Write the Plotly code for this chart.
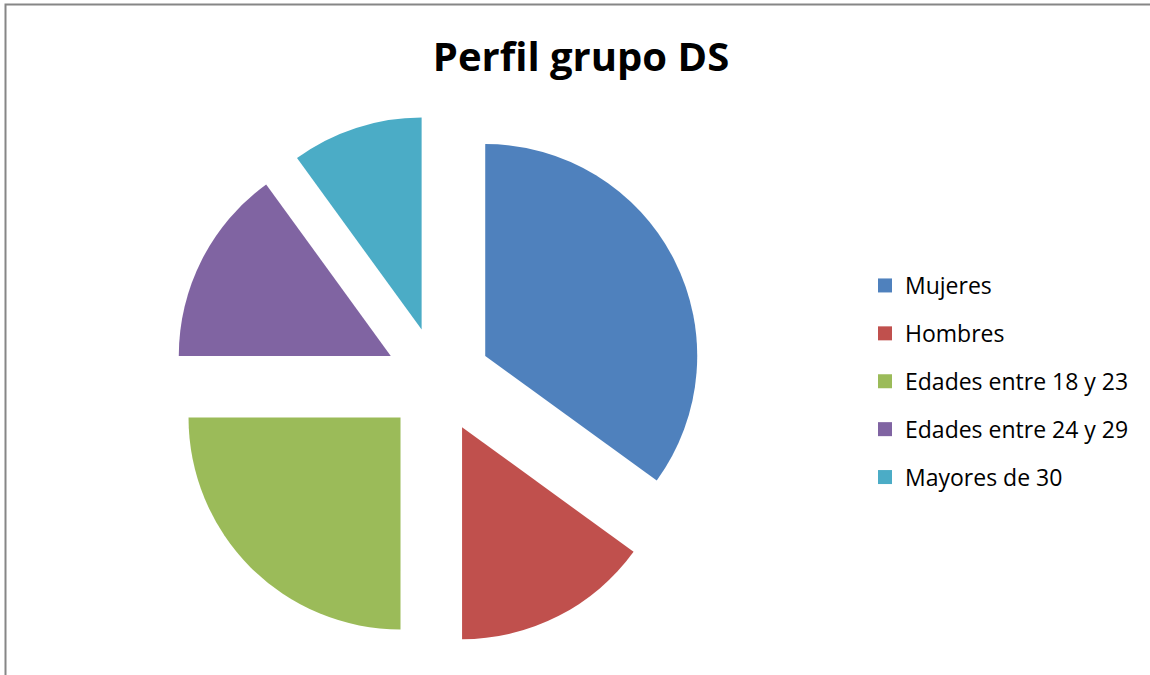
import plotly.graph_objects as go

categories = ["Mujeres", "Hombres", "Edades entre 18 y 23", "Edades entre 24 y 29", "Mayores de 30"]
values = [7, 3, 5, 3, 2]
colors = ["#4F81BD", "#C0504D", "#9BBB59", "#8064A2", "#4BACC6"]

W, H = 1150, 675

fig = go.Figure()
fig.add_trace(go.Pie(
    labels=categories,
    values=values,
    marker=dict(colors=colors, line=dict(width=0)),
    pull=[0.25] * len(values),
    sort=False,
    direction="clockwise",
    rotation=0,
    textinfo="none",
    showlegend=False,
    domain=dict(x=[173 / W, 703 / W], y=[1 - 645 / H, 1 - 115 / H]),
))

# legend entries (one group each for spacing)
for i, (c, col) in enumerate(zip(categories, colors)):
    fig.add_trace(go.Scatter(
        x=[None], y=[None], mode="markers", name=c,
        marker=dict(symbol="square", size=14, color=col),
        legendgroup=f"g{i}", showlegend=True,
    ))

fig.update_layout(
    width=W, height=H,
    margin=dict(l=0, r=0, t=0, b=0),
    paper_bgcolor="white", plot_bgcolor="white",
    title=dict(text="<b>Perfil grupo DS</b>", x=581 / W, xanchor="center",
               y=1 - 57 / H, yanchor="middle",
               font=dict(family="Open Sans", size=40, color="black")),
    xaxis=dict(visible=False), yaxis=dict(visible=False),
    legend=dict(x=865 / W, xanchor="left", y=1 - 381.5 / H, yanchor="middle",
                font=dict(family="Open Sans", size=23, color="black"),
                tracegroupgap=15, bgcolor="rgba(0,0,0,0)", itemclick=False),
    shapes=[dict(type="rect", xref="paper", yref="paper",
                 x0=5.5 / W, x1=1.1, y0=-0.1, y1=1 - 4.5 / H,
                 line=dict(color="#868686", width=2), fillcolor="rgba(0,0,0,0)",
                 layer="below")],
)

fig.write_html("out.html", config={"displayModeBar": False},
               post_script="document.body.style.margin='0';document.body.style.overflow='hidden';")
